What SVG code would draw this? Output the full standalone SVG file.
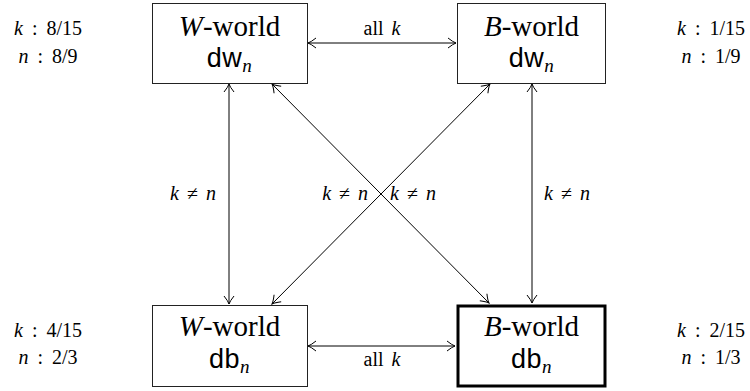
<svg xmlns="http://www.w3.org/2000/svg" width="750" height="391" viewBox="0 0 750 391">
<style>
.box{fill:#fff;stroke:#222;stroke-width:1}
.thick{stroke:#000;stroke-width:3}
.ser{font-family:"Liberation Serif","Times New Roman",serif;fill:#000}
.sans{font-family:"Liberation Sans",Arial,sans-serif;fill:#000}
.it{font-style:italic}
.title{font-size:29px}
.sub{font-size:27px;letter-spacing:0.5px}
.lab{font-size:20px}
.con{stroke:#000;stroke-width:1;fill:none;marker-start:url(#ah);marker-end:url(#ah)}
</style>
<defs>
<marker id="ah" viewBox="-10 -6 12 12" markerWidth="12" markerHeight="12" refX="0" refY="0" orient="auto-start-reverse" markerUnits="userSpaceOnUse">
<path d="M-8,-5 Q-3,-1 0,0 Q-3,1 -8,5" fill="none" stroke="#000" stroke-width="1"/>
</marker>
</defs>
<g id="connectors">
<line class="con" x1="308" y1="43" x2="456" y2="43"/>
<line class="con" x1="308" y1="346" x2="455" y2="346"/>
<line class="con" x1="229" y1="84" x2="229" y2="304"/>
<line class="con" x1="532" y1="84" x2="532" y2="303"/>
<line class="con" x1="272" y1="84" x2="489" y2="303"/>
<line class="con" x1="490" y1="84" x2="272" y2="304"/>
<text class="ser lab" x="382" y="35" text-anchor="middle" word-spacing="3">all <tspan class="it">k</tspan></text>
<text class="ser lab" x="382" y="366" text-anchor="middle" word-spacing="3">all <tspan class="it">k</tspan></text>
<text class="ser lab" x="193" y="200" text-anchor="middle" word-spacing="3"><tspan class="it">k</tspan> ≠ <tspan class="it">n</tspan></text>
<text class="ser lab" x="368" y="200" text-anchor="end" word-spacing="3"><tspan class="it">k</tspan> ≠ <tspan class="it">n</tspan></text>
<text class="ser lab" x="390" y="200" text-anchor="start" word-spacing="3"><tspan class="it">k</tspan> ≠ <tspan class="it">n</tspan></text>
<text class="ser lab" x="567" y="200" text-anchor="middle" word-spacing="3"><tspan class="it">k</tspan> ≠ <tspan class="it">n</tspan></text>
</g>
<g id="w-dw">
<rect class="box" x="152.5" y="3.5" width="155" height="80"/>
<text class="ser title" x="229.5" y="36" text-anchor="middle"><tspan class="it">W</tspan>-world</text>
<text class="sans sub" x="229.5" y="67" text-anchor="middle">dw<tspan class="ser it" font-size="19" dy="5">n</tspan></text>
</g>
<g id="b-dw">
<rect class="box" x="457.5" y="3.5" width="148" height="80"/>
<text class="ser title" x="531.5" y="36" text-anchor="middle"><tspan class="it">B</tspan>-world</text>
<text class="sans sub" x="531.5" y="67" text-anchor="middle">dw<tspan class="ser it" font-size="19" dy="5">n</tspan></text>
</g>
<g id="w-db">
<rect class="box" x="152.5" y="305.5" width="155" height="81"/>
<text class="ser title" x="229.5" y="336" text-anchor="middle"><tspan class="it">W</tspan>-world</text>
<text class="sans sub" x="229.5" y="368" text-anchor="middle">db<tspan class="ser it" font-size="19" dy="5">n</tspan></text>
</g>
<g id="b-db">
<rect class="box thick" x="458" y="306" width="147" height="80"/>
<text class="ser title" x="531.5" y="336" text-anchor="middle"><tspan class="it">B</tspan>-world</text>
<text class="sans sub" x="531.5" y="368" text-anchor="middle">db<tspan class="ser it" font-size="19" dy="5">n</tspan></text>
</g>
<g id="probs">
<text class="ser lab" x="48" y="35" text-anchor="middle" word-spacing="4"><tspan class="it">k</tspan> : 8/15</text>
<text class="ser lab" x="48" y="63" text-anchor="middle" word-spacing="4"><tspan class="it">n</tspan> : 8/9</text>
<text class="ser lab" x="711" y="35" text-anchor="middle" word-spacing="4"><tspan class="it">k</tspan> : 1/15</text>
<text class="ser lab" x="711" y="63" text-anchor="middle" word-spacing="4"><tspan class="it">n</tspan> : 1/9</text>
<text class="ser lab" x="48" y="337" text-anchor="middle" word-spacing="4"><tspan class="it">k</tspan> : 4/15</text>
<text class="ser lab" x="48" y="364" text-anchor="middle" word-spacing="4"><tspan class="it">n</tspan> : 2/3</text>
<text class="ser lab" x="711" y="337" text-anchor="middle" word-spacing="4"><tspan class="it">k</tspan> : 2/15</text>
<text class="ser lab" x="711" y="364" text-anchor="middle" word-spacing="4"><tspan class="it">n</tspan> : 1/3</text>
</g>
</svg>
